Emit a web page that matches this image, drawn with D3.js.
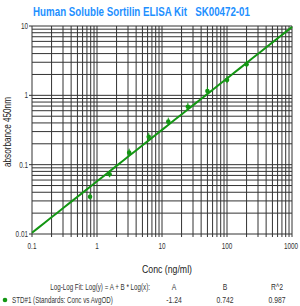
<!DOCTYPE html>
<html><head><meta charset="utf-8">
<script src="https://cdn.jsdelivr.net/npm/d3@7"></script>
<style>
html,body{margin:0;padding:0;background:#fff;}
svg{display:block;}
text{font-family:"Liberation Sans",Arial,sans-serif;}
</style></head>
<body>
<svg id="chart" width="300" height="306"></svg>
<script>
const title = "Human Soluble Sortilin ELISA Kit   SK00472-01";
const concentrations = [0.78125, 1.5625, 3.125, 6.25, 12.5, 25, 50, 100, 200];
const absorbance = [0.0345, 0.0726, 0.149, 0.253, 0.417, 0.686, 1.155, 1.66, 2.80];
const xTickLabels = ["0.1", "1", "10", "100", "1000"];
const yTickLabels = ["0.01", "0.1", "1", "10"];
const fitA = -1.24, fitB = 0.742, fitR2 = 0.987;
const fitLabels = ["A", "B", "R^2"];
const fitValues = ["-1.24", "0.742", "0.987"];

const svg = d3.select("#chart");
const m = {l: 32, r: 292, t: 26, b: 234};
const x = d3.scaleLog().domain([0.1, 1000]).range([m.l, m.r]);
const y = d3.scaleLog().domain([0.01, 10]).range([m.b, m.t]);

// place a text at (px,py) horizontally compressed by factor f (or to width w)
function place(sel, px, py, f, w, rot) {
  sel.each(function(d, i) {
    const X = typeof px === "function" ? px(d, i) : px;
    const Y = typeof py === "function" ? py(d, i) : py;
    this.setAttribute("x", 0); this.setAttribute("y", 0);
    const nat = this.getComputedTextLength();
    const s = w ? w / nat : f;
    this.setAttribute("transform",
      `translate(${X},${Y})` + (rot ? ` rotate(${rot})` : "") + ` scale(${s},1)`);
  });
}

// grid values
const xGrid = [], yGrid = [];
for (let e = -1; e < 3; e++) for (let k = 1; k < 10; k++) xGrid.push(k * Math.pow(10, e));
xGrid.push(1000);
for (let e = -2; e < 1; e++) for (let k = 1; k < 10; k++) yGrid.push(k * Math.pow(10, e));
yGrid.push(10);

const g = svg.append("g");
g.selectAll("line.vx").data(xGrid).join("line")
  .attr("x1", d => x(d)).attr("x2", d => x(d))
  .attr("y1", m.t).attr("y2", m.b + 3)
  .attr("stroke", "#333").attr("stroke-width", 1);
g.selectAll("line.hy").data(yGrid).join("line")
  .attr("y1", d => y(d)).attr("y2", d => y(d))
  .attr("x1", m.l).attr("x2", m.r)
  .attr("stroke", "#333").attr("stroke-width", 1);
g.selectAll("line.lt").data(yTickLabels).join("line")
  .attr("x1", m.l - 3).attr("x2", m.l)
  .attr("y1", d => y(+d)).attr("y2", d => y(+d))
  .attr("stroke", "#333");

// tick labels
const yt = svg.selectAll("text.yt").data(yTickLabels).join("text")
  .attr("text-anchor", "end").attr("font-size", 8.5).attr("fill", "#333")
  .text(d => d);
place(yt, m.l - 4, d => y(+d) + 3, 0.75);
const xt = svg.selectAll("text.xt").data(xTickLabels).join("text")
  .attr("text-anchor", "middle").attr("font-size", 8.5).attr("fill", "#333")
  .text(d => d);
place(xt, d => x(+d) + (d === "1000" ? -1 : 0), m.b + 15, 0.75);

// title
const tt = svg.append("text").attr("text-anchor", "middle")
  .attr("font-size", 13).attr("font-weight", "bold").attr("fill", "#1E90FF")
  .style("white-space", "pre")
  .text(title);
place(tt, 141.5, 16, null, 217);

// axis labels
const xl = svg.append("text").attr("text-anchor", "middle")
  .attr("font-size", 11).attr("fill", "#222").text("Conc (ng/ml)");
place(xl, 167, 273, null, 50);
const yl = svg.append("text")
  .attr("text-anchor", "middle").attr("font-size", 10).attr("fill", "#222")
  .text("absorbance 450nm");
place(yl, 11, 132, null, 70, -90);

// fit line
const lineData = d3.range(0, 41).map(i => Math.pow(10, -1 + i * 0.1));
const fit = c => Math.pow(10, fitA + fitB * Math.log10(c));
svg.append("path").datum(lineData)
  .attr("d", d3.line().x(d => x(d)).y(d => y(fit(d))))
  .attr("fill", "none").attr("stroke", "#139613").attr("stroke-width", 2);

// points
const pts = concentrations.map((c, i) => ({c, v: absorbance[i]}));
svg.selectAll("line.eb").data(pts).join("line")
  .attr("x1", d => x(d.c)).attr("x2", d => x(d.c))
  .attr("y1", d => y(d.v) - 4).attr("y2", d => y(d.v) + 3)
  .attr("stroke", "#139613").attr("stroke-width", 1);
svg.selectAll("circle.pt").data(pts).join("circle")
  .attr("cx", d => x(d.c)).attr("cy", d => y(d.v)).attr("r", 2.3)
  .attr("fill", "#139613");

// fit table
const lf = svg.append("text").attr("text-anchor", "end")
  .attr("font-size", 8.5).attr("fill", "#333").text("Log-Log Fit: Log(y) = A + B * Log(x):");
place(lf, 150, 290, null, 100);
const colX = [174, 225, 277];
const fl = svg.selectAll("text.fl").data(fitLabels).join("text")
  .attr("text-anchor", "middle")
  .attr("font-size", 8.5).attr("fill", "#333").text(d => d);
place(fl, (d, i) => colX[i], 290, 0.8);
const fv = svg.selectAll("text.fv").data(fitValues).join("text")
  .attr("text-anchor", "middle")
  .attr("font-size", 8.5).attr("fill", "#333").text(d => d);
place(fv, (d, i) => colX[i], 303, 0.8);
svg.append("circle").attr("cx", 5).attr("cy", 300).attr("r", 2.3).attr("fill", "#139613");
const sl = svg.append("text").attr("font-size", 8.5).attr("fill", "#333")
  .text("STD#1 (Standards: Conc vs AvgOD)");
place(sl, 12, 303, null, 101);
</script>
</body></html>
